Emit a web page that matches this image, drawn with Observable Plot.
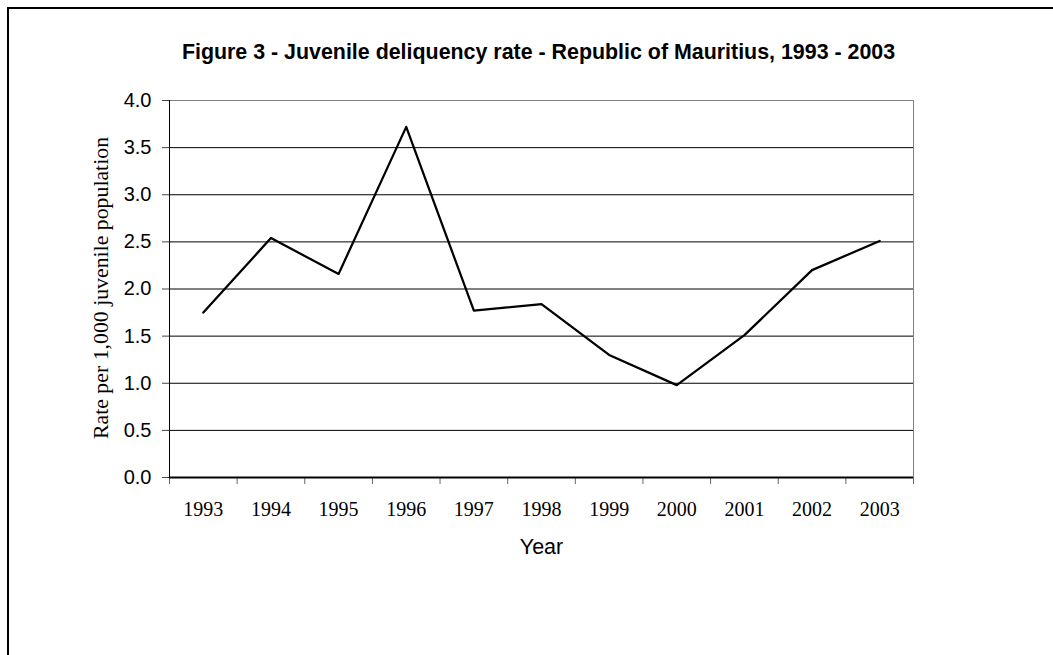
<!DOCTYPE html>
<html>
<head>
<meta charset="utf-8">
<script src="https://cdn.jsdelivr.net/npm/d3@7"></script>
<script src="https://cdn.jsdelivr.net/npm/@observablehq/plot@0.6"></script>
<style>
  html, body { margin: 0; padding: 0; background: #fff; }
  #wrap { position: relative; width: 1053px; height: 655px; overflow: hidden; }
  #border { position: absolute; left: 7px; top: 7px; width: 1100px; height: 700px;
            border-left: 2px solid #000; border-top: 2px solid #000; box-sizing: border-box; }
  #chart { position: absolute; left: 0; top: 0; }
</style>
</head>
<body>
<div id="wrap"><div id="chart"></div><div id="border"></div></div>
<script>
const titleText = "Figure 3 - Juvenile deliquency rate - Republic of Mauritius, 1993 - 2003";
const yLabel = "Rate per 1,000 juvenile population";
const xLabel = "Year";
const years = [1993, 1994, 1995, 1996, 1997, 1998, 1999, 2000, 2001, 2002, 2003];
const rates = [1.75, 2.54, 2.16, 3.72, 1.77, 1.84, 1.30, 0.98, 1.51, 2.20, 2.51];
const yTicks = [0, 0.5, 1.0, 1.5, 2.0, 2.5, 3.0, 3.5, 4.0];

const data = years.map((y, i) => ({year: y, rate: rates[i]}));
const boundaries = years.map(y => y - 0.5).concat([years[years.length - 1] + 0.5]);
const xMin = boundaries[0], xMax = boundaries[boundaries.length - 1];
const sans = "'Liberation Sans', Arial, sans-serif";
const serif = "'Liberation Serif', 'Times New Roman', serif";

const chart = Plot.plot({
  width: 1053,
  height: 655,
  marginLeft: 169,
  marginRight: 140,
  marginTop: 100,
  marginBottom: 178,
  style: {fontFamily: sans, fontSize: "20px", background: "transparent", color: "#000"},
  x: {domain: [xMin, xMax]},
  y: {domain: [0, 4]},
  marks: [
    Plot.gridY(yTicks.filter(d => d > 0 && d < 4), {stroke: "#000", strokeOpacity: 1, strokeWidth: 1}),
    Plot.ruleY([4], {stroke: "#808080", strokeWidth: 1}),
    Plot.ruleX([xMax], {stroke: "#808080", strokeWidth: 1}),
    Plot.ruleX([xMin], {stroke: "#000", strokeWidth: 1}),
    Plot.axisY(yTicks, {tickSize: 7, tickPadding: 11, tickFormat: d3.format(".1f"),
      fontSize: 20, fontFamily: sans, stroke: "#444", label: null}),
    Plot.axisX(boundaries, {tickSize: 7, tickFormat: () => "", stroke: "#666", label: null}),
    Plot.axisX(years, {tickSize: 0, tickPadding: 24, tickFormat: d => String(d),
      fontSize: 20, fontFamily: serif, label: null}),
    Plot.ruleY([0], {stroke: "#000", strokeWidth: 2}),
    Plot.line(data, {x: "year", y: "rate", stroke: "#000", strokeWidth: 2.25}),
    Plot.text([titleText], {frameAnchor: "top", dx: -3, dy: -42, lineAnchor: "bottom",
      fontSize: 21.4, fontWeight: "bold", fontFamily: sans, fill: "#000"}),
    Plot.text([xLabel], {frameAnchor: "bottom", dy: 61, lineAnchor: "top",
      fontSize: 21.5, fontFamily: sans, fill: "#000"}),
    Plot.text([yLabel], {frameAnchor: "left", dx: -68, dy: -1, rotate: -90, lineAnchor: "middle",
      textAnchor: "middle", fontSize: 21.8, fontFamily: serif, fill: "#000"})
  ]
});
document.getElementById("chart").appendChild(chart);
</script>
</body>
</html>
